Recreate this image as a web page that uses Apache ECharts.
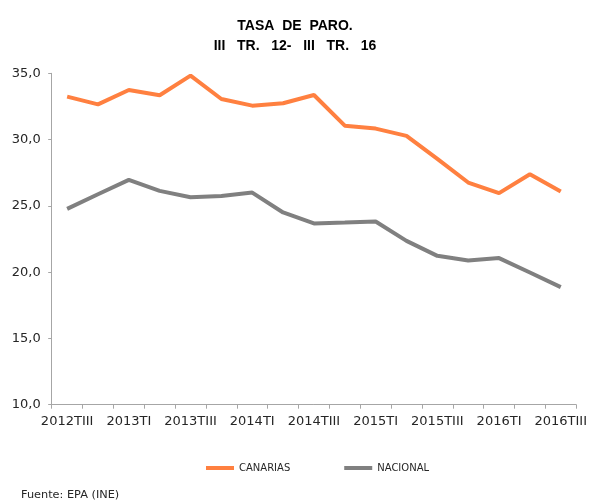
<!DOCTYPE html>
<html>
<head>
<meta charset="utf-8">
<script src="https://cdn.jsdelivr.net/npm/echarts@6/dist/echarts.min.js"></script>
<style>
  html, body { margin: 0; padding: 0; background: #fff; }
  #chart { width: 590px; height: 500px; }
</style>
</head>
<body>
<div id="chart"></div>
<script>
const categories = [
  '2012TIII', '2012TIV', '2013TI', '2013TII', '2013TIII', '2013TIV',
  '2014TI', '2014TII', '2014TIII', '2014TIV', '2015TI', '2015TII',
  '2015TIII', '2015TIV', '2016TI', '2016TII', '2016TIII'
]
const canarias = [33.24, 32.66, 33.74, 33.34, 34.82, 33.06, 32.56, 32.74, 33.36, 31.05, 30.83, 30.28, 28.55, 26.76, 25.96, 27.39, 26.08]
const nacional = [24.77, 25.88, 26.96, 26.13, 25.65, 25.75, 26.0, 24.5, 23.67, 23.74, 23.82, 22.36, 21.23, 20.88, 21.06, 19.97, 18.87]
const titleText = 'TASA  DE  PARO.\nIII   TR.   12-   III   TR.   16'
const sourceText = 'Fuente: EPA (INE)'

const axisColor = '#a6a6a6'
const labelFont = { fontFamily: '"DejaVu Sans", sans-serif', fontSize: 13, color: '#262626' }

const chart = echarts.init(document.getElementById('chart'))

chart.setOption({
  animation: false,
  backgroundColor: '#fff',
  title: [
    {
      text: titleText,
      left: 'center',
      top: 11,
      textStyle: { fontFamily: '"Liberation Sans", Arial, sans-serif', fontSize: 14, fontWeight: 'bold', color: '#000', lineHeight: 20 }
    },
    {
      text: sourceText,
      left: 16,
      top: 485,
      textStyle: { fontFamily: '"DejaVu Sans", sans-serif', fontSize: 11.3, fontWeight: 'normal', color: '#262626' }
    }
  ],
  legend: {
    left: 201,
    top: 458,
    icon: 'rect',
    itemWidth: 28,
    itemHeight: 4,
    itemGap: 54,
    textStyle: { fontFamily: '"DejaVu Sans", sans-serif', fontSize: 10, color: '#262626' },
    data: ['CANARIAS', 'NACIONAL']
  },
  grid: { left: 51.7, right: 13.3, top: 73.3, bottom: 95.3, containLabel: false },
  xAxis: {
    type: 'category',
    data: categories,
    boundaryGap: true,
    axisLine: { lineStyle: { color: axisColor, width: 1 } },
    axisTick: { show: true, interval: 0, length: 4, lineStyle: { color: axisColor } },
    axisLabel: { ...labelFont, interval: 1, margin: 10 },
    splitLine: { show: false }
  },
  yAxis: {
    type: 'value',
    min: 10,
    max: 35,
    interval: 5,
    axisLine: { show: true, lineStyle: { color: axisColor, width: 1 } },
    axisTick: { show: true, length: 3.5, lineStyle: { color: axisColor } },
    axisLabel: { ...labelFont, margin: 11, formatter: (v) => v.toFixed(1).replace('.', ',') },
    splitLine: { show: false }
  },
  series: [
    {
      name: 'CANARIAS',
      type: 'line',
      data: canarias,
      symbol: 'none',
      color: '#ff8040',
      lineStyle: { width: 4, color: '#ff8040' }
    },
    {
      name: 'NACIONAL',
      type: 'line',
      data: nacional,
      symbol: 'none',
      color: '#808080',
      lineStyle: { width: 4, color: '#808080' }
    }
  ]
})
</script>
</body>
</html>
